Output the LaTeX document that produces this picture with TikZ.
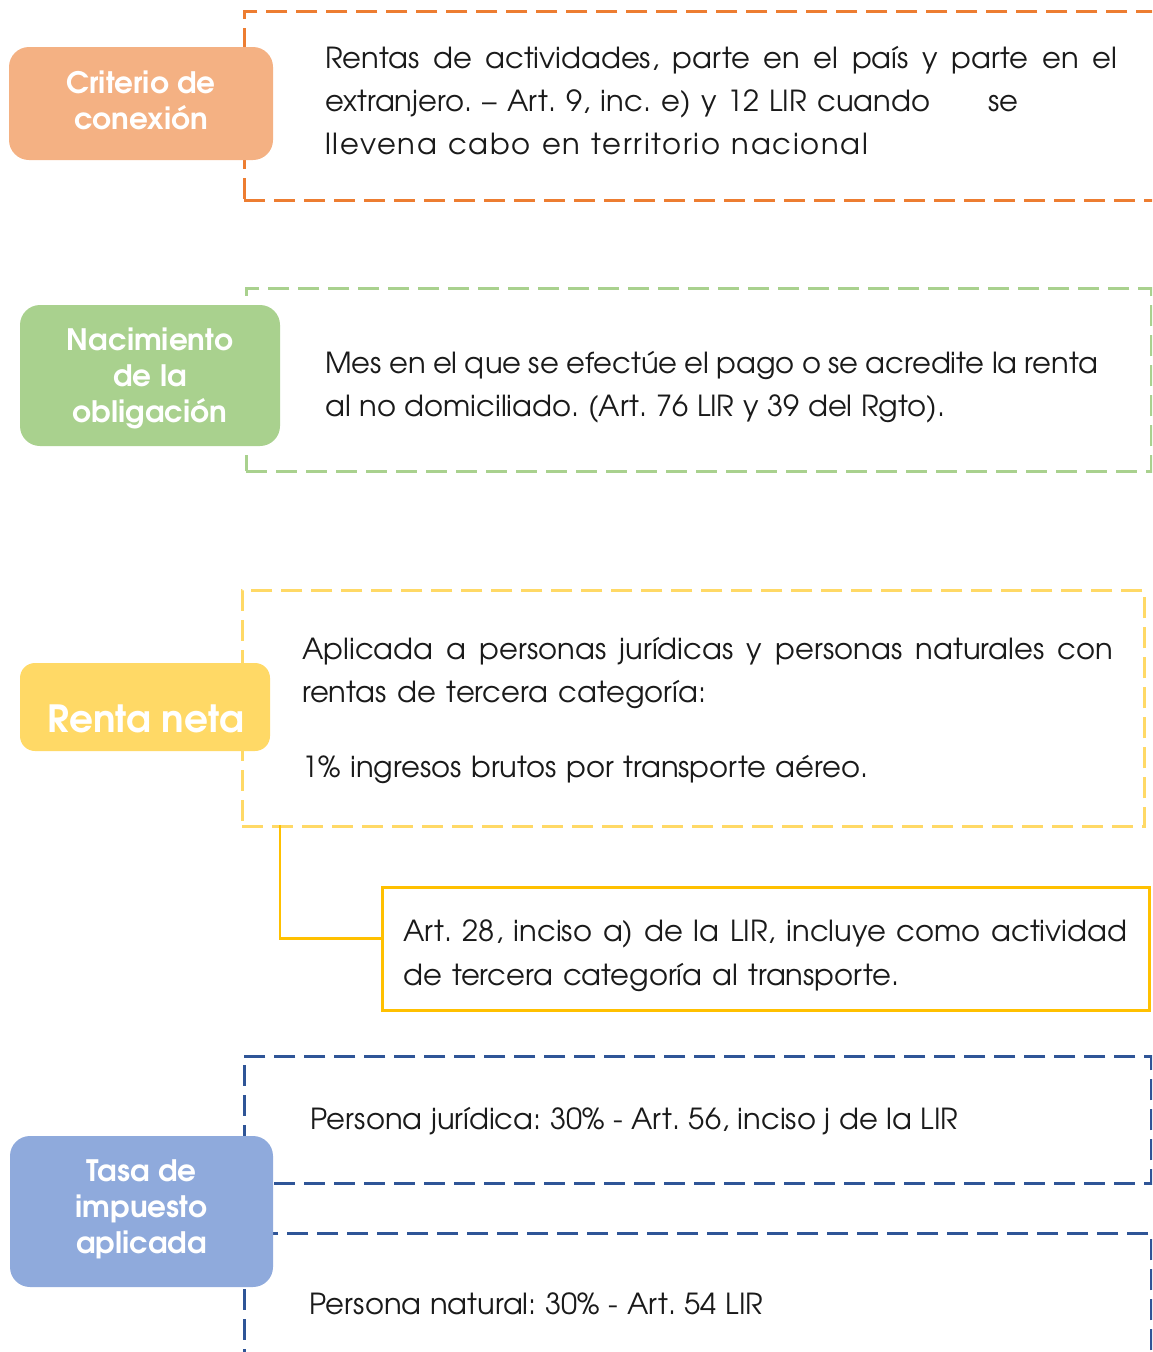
\documentclass[tikz,border=0pt]{standalone}
\usepackage{fontspec}
\setmainfont{TeX Gyre Adventor}
\frenchspacing
\definecolor{orline}{HTML}{ED7D31}
\definecolor{orfill}{HTML}{F4B183}
\definecolor{grline}{HTML}{A9D18E}
\definecolor{yeline}{HTML}{FFD966}
\definecolor{yesolid}{HTML}{FFC000}
\definecolor{blline}{HTML}{2F5597}
\definecolor{blfill}{HTML}{8FAADC}
\definecolor{txt}{HTML}{1A1A1A}
\newcommand{\fitline}[2]{\makebox[#1pt][s]{#2}}
\begin{document}
\begin{tikzpicture}[x=1pt,y=-1pt,
  dbox/.style={draw, line width=2.5pt, dash pattern=on 21pt off 9pt, inner sep=0pt, anchor=north west},
  sbox/.style={draw, line width=2.5pt, inner sep=0pt, anchor=north west},
  lab/.style={rounded corners=20pt, inner sep=0pt},
  labtext/.style={inner sep=0pt, text=white, align=center,
    font=\bfseries\fontsize{29.5}{36}\selectfont},
  body/.style={inner sep=0pt, anchor=base west, text=txt, font=\fontsize{29}{43}\selectfont}
]
\useasboundingbox (0,0) rectangle (1152,1352);
\clip (0,0) rectangle (1152,1352);

% dashed containers
\node[dbox, draw=orline, minimum width=917pt, minimum height=189pt] (bo) at (243,10) {};
\node[dbox, draw=grline, minimum width=905pt, minimum height=183pt] (bg) at (245,287) {};
\node[dbox, draw=yeline, minimum width=902pt, minimum height=236pt] (by) at (241,589) {};
\node[sbox, draw=yesolid, minimum width=767pt, minimum height=123pt] (ba) at (381,886) {};
\node[dbox, draw=blline, minimum width=907pt, minimum height=127pt] (bb1) at (243,1055) {};
\node[dbox, draw=blline, minimum width=907pt, minimum height=200pt] (bb2) at (243,1232) {};

% connector
\coordinate (cy) at (280,825);
\draw[yesolid, line width=2.5pt] (cy) |- ([yshift=10.5pt]ba.west);

% labels
\node[lab, fill=orfill, minimum width=264pt, minimum height=113pt] (lo) at (141,103.5) {};
\node[labtext] (lot) at (141,100) {Criterio de\\conexión};
\node[lab, fill=grline, minimum width=260pt, minimum height=141pt] (lg) at (150,375.5) {};
\node[labtext] (lgt) at (150,378) {Nacimiento\\de la\\obligación};
\node[lab, fill=yeline, rounded corners=15pt, minimum width=250pt, minimum height=88pt] (ly) at (145,707) {};
\node[inner sep=0pt, text=white, font=\bfseries\fontsize{37.5}{40}\selectfont] (lyt) at (145.5,719) {Renta neta};
\node[lab, fill=blfill, minimum width=263pt, minimum height=151pt] (lb) at (141.5,1211.5) {};
\node[labtext] (lbt) at (141.5,1209.5) {Tasa de\\impuesto\\aplicada};

% texts
\node[body] (o1) at (325,68) {\fitline{792}{Rentas de actividades, parte en el país y parte en el}};
\node[body] (o2) at (325,111) {\fitline{693}{\fitline{605}{extranjero. – Art. 9, inc. e) y 12 LIR cuando}\hfill se}};
\node[body] (o3) at (325,154) {\addfontfeature{LetterSpace=6}\fitline{543}{llevena cabo en territorio nacional}};

\node[body] (g1) at (325,373) {\fitline{773}{Mes en el que se efectúe el pago o se acredite la renta}};
\node[body] (g2) at (325,416) {\fitline{620}{al no domiciliado. (Art. 76 LIR y 39 del Rgto).}};

\node[body] (y1) at (302,659) {\fitline{811}{Aplicada a personas jurídicas y personas naturales con}};
\node[body] (y2) at (302,702) {\fitline{404}{rentas de tercera categoría:}};
\node[body] (y3) at (302,777) {\fitline{566}{1\% ingresos brutos por transporte aéreo.}};

\node[body] (a1) at (403,941) {\fitline{724}{Art. 28, inciso a) de la LIR, incluye como actividad}};
\node[body] (a2) at (403,985) {\fitline{496}{de tercera categoría al transporte.}};

\node[body] (p1) at (310,1129) {\fitline{648}{Persona jurídica: 30\% - Art. 56, inciso j de la LIR}};
\node[body] (p2) at (309,1314) {\fitline{454}{Persona natural: 30\% - Art. 54 LIR}};
\end{tikzpicture}
\end{document}
